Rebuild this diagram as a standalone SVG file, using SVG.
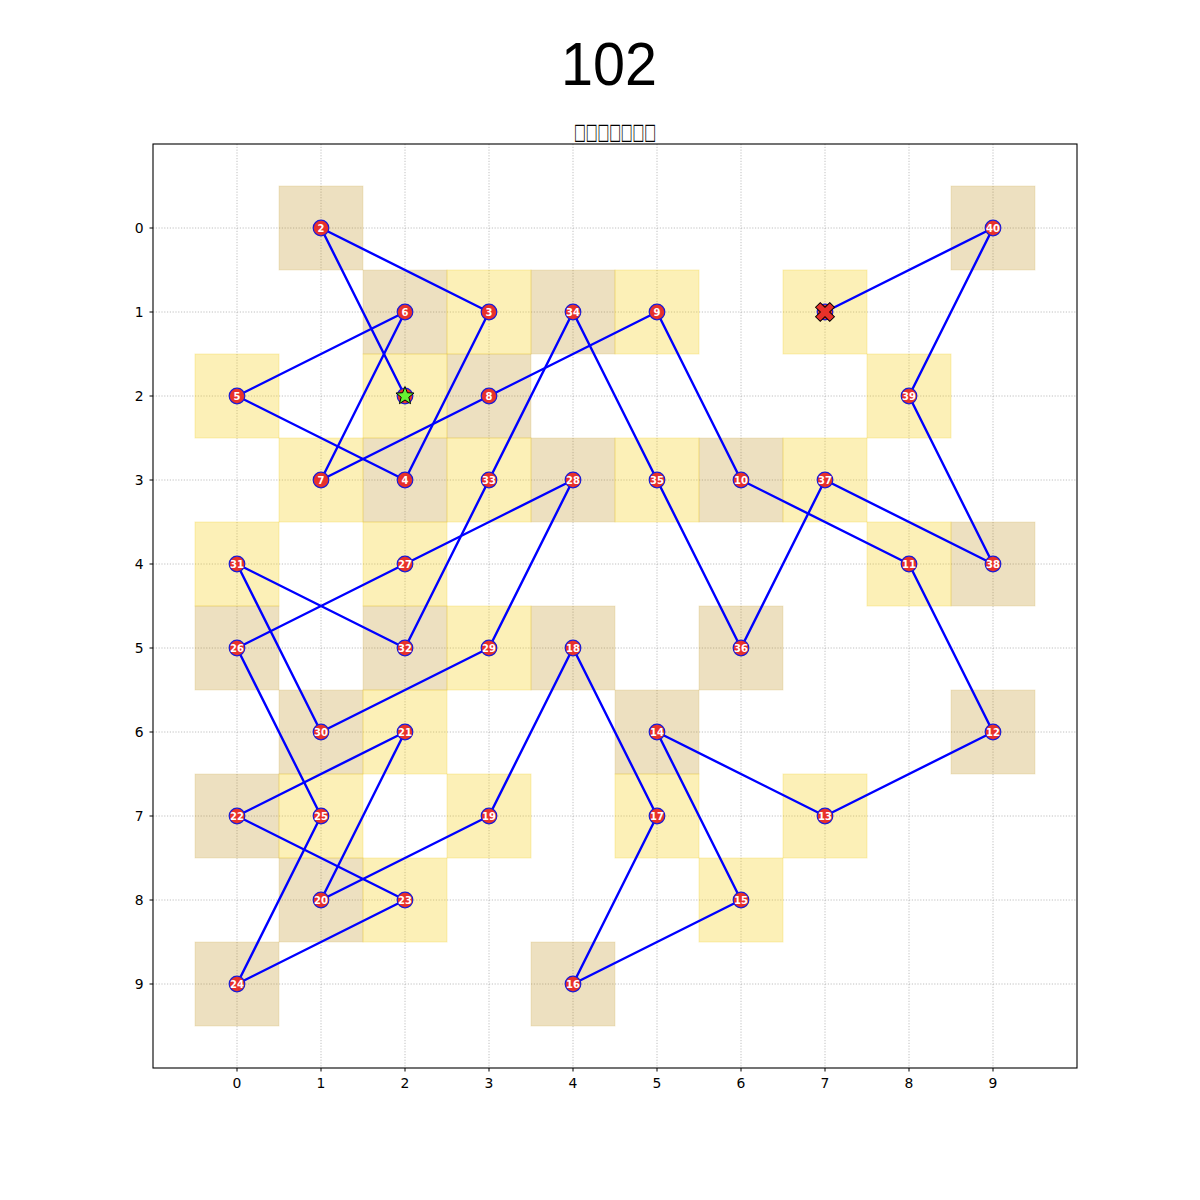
<svg xmlns="http://www.w3.org/2000/svg" width="1200" height="1200" viewBox="0 0 1200 1200">
<style>
.bg{fill:#ffffff}
.grid line{stroke:#b0b0b0;stroke-width:0.8;stroke-dasharray:1.2,1.6}
.sqY{fill:#f5cd12;fill-opacity:0.3;stroke:#f5cd12;stroke-opacity:0.25;stroke-width:1}
.sqT{fill:#b8860b;fill-opacity:0.26;stroke:#c8a030;stroke-opacity:0.2;stroke-width:1}
.edges line{stroke:#0000ff;stroke-width:2.4;stroke-linecap:round}
.node circle{fill:#e8312a;stroke:#1a1ad8;stroke-width:1.2}
.node text{fill:#ffffff;font-family:"DejaVu Sans",sans-serif;font-weight:bold;font-size:10px;text-anchor:middle}
.tick{stroke:#000;stroke-width:1}
.tl{font-family:"DejaVu Sans",sans-serif;font-size:13.9px;fill:#000}
.spine{fill:none;stroke:#000;stroke-width:1.1}
</style>
<rect class="bg" x="0" y="0" width="1200" height="1200"/>
<text x="609" y="85" font-family="'Liberation Sans',Arial,sans-serif" font-size="61" text-anchor="middle" fill="#000" textLength="96" lengthAdjust="spacingAndGlyphs">102</text>
<text x="615" y="139" font-family="'DejaVu Sans',sans-serif" font-size="22" text-anchor="middle" fill="#000" textLength="82" lengthAdjust="spacingAndGlyphs">□□□□□□□</text>

<g id="grid" class="grid">
<line x1="237" y1="144" x2="237" y2="1068"/><line x1="321" y1="144" x2="321" y2="1068"/><line x1="405" y1="144" x2="405" y2="1068"/><line x1="489" y1="144" x2="489" y2="1068"/><line x1="573" y1="144" x2="573" y2="1068"/><line x1="657" y1="144" x2="657" y2="1068"/><line x1="741" y1="144" x2="741" y2="1068"/><line x1="825" y1="144" x2="825" y2="1068"/><line x1="909" y1="144" x2="909" y2="1068"/><line x1="993" y1="144" x2="993" y2="1068"/>
<line x1="153" y1="228" x2="1077" y2="228"/><line x1="153" y1="312" x2="1077" y2="312"/><line x1="153" y1="396" x2="1077" y2="396"/><line x1="153" y1="480" x2="1077" y2="480"/><line x1="153" y1="564" x2="1077" y2="564"/><line x1="153" y1="648" x2="1077" y2="648"/><line x1="153" y1="732" x2="1077" y2="732"/><line x1="153" y1="816" x2="1077" y2="816"/><line x1="153" y1="900" x2="1077" y2="900"/><line x1="153" y1="984" x2="1077" y2="984"/>
</g>

<g id="cells">
<rect class="sqT" x="279" y="186" width="84" height="84"/>
<rect class="sqT" x="951" y="186" width="84" height="84"/>
<rect class="sqT" x="363" y="270" width="84" height="84"/>
<rect class="sqT" x="531" y="270" width="84" height="84"/>
<rect class="sqT" x="447" y="354" width="84" height="84"/>
<rect class="sqT" x="363" y="438" width="84" height="84"/>
<rect class="sqT" x="531" y="438" width="84" height="84"/>
<rect class="sqT" x="699" y="438" width="84" height="84"/>
<rect class="sqT" x="951" y="522" width="84" height="84"/>
<rect class="sqT" x="195" y="606" width="84" height="84"/>
<rect class="sqT" x="363" y="606" width="84" height="84"/>
<rect class="sqT" x="531" y="606" width="84" height="84"/>
<rect class="sqT" x="699" y="606" width="84" height="84"/>
<rect class="sqT" x="279" y="690" width="84" height="84"/>
<rect class="sqT" x="615" y="690" width="84" height="84"/>
<rect class="sqT" x="951" y="690" width="84" height="84"/>
<rect class="sqT" x="195" y="774" width="84" height="84"/>
<rect class="sqT" x="279" y="858" width="84" height="84"/>
<rect class="sqT" x="195" y="942" width="84" height="84"/>
<rect class="sqT" x="531" y="942" width="84" height="84"/>
<rect class="sqY" x="447" y="270" width="84" height="84"/>
<rect class="sqY" x="615" y="270" width="84" height="84"/>
<rect class="sqY" x="783" y="270" width="84" height="84"/>
<rect class="sqY" x="195" y="354" width="84" height="84"/>
<rect class="sqY" x="363" y="354" width="84" height="84"/>
<rect class="sqY" x="867" y="354" width="84" height="84"/>
<rect class="sqY" x="279" y="438" width="84" height="84"/>
<rect class="sqY" x="447" y="438" width="84" height="84"/>
<rect class="sqY" x="615" y="438" width="84" height="84"/>
<rect class="sqY" x="783" y="438" width="84" height="84"/>
<rect class="sqY" x="195" y="522" width="84" height="84"/>
<rect class="sqY" x="363" y="522" width="84" height="84"/>
<rect class="sqY" x="867" y="522" width="84" height="84"/>
<rect class="sqY" x="447" y="606" width="84" height="84"/>
<rect class="sqY" x="363" y="690" width="84" height="84"/>
<rect class="sqY" x="279" y="774" width="84" height="84"/>
<rect class="sqY" x="447" y="774" width="84" height="84"/>
<rect class="sqY" x="615" y="774" width="84" height="84"/>
<rect class="sqY" x="783" y="774" width="84" height="84"/>
<rect class="sqY" x="363" y="858" width="84" height="84"/>
<rect class="sqY" x="699" y="858" width="84" height="84"/>
</g>

<g id="axes">
<rect class="spine" x="153" y="144" width="924" height="924"/>
<g class="tick">
<line x1="149.5" y1="228" x2="153" y2="228"/><line x1="149.5" y1="312" x2="153" y2="312"/><line x1="149.5" y1="396" x2="153" y2="396"/><line x1="149.5" y1="480" x2="153" y2="480"/><line x1="149.5" y1="564" x2="153" y2="564"/><line x1="149.5" y1="648" x2="153" y2="648"/><line x1="149.5" y1="732" x2="153" y2="732"/><line x1="149.5" y1="816" x2="153" y2="816"/><line x1="149.5" y1="900" x2="153" y2="900"/><line x1="149.5" y1="984" x2="153" y2="984"/>
<line x1="237" y1="1068" x2="237" y2="1071.5"/><line x1="321" y1="1068" x2="321" y2="1071.5"/><line x1="405" y1="1068" x2="405" y2="1071.5"/><line x1="489" y1="1068" x2="489" y2="1071.5"/><line x1="573" y1="1068" x2="573" y2="1071.5"/><line x1="657" y1="1068" x2="657" y2="1071.5"/><line x1="741" y1="1068" x2="741" y2="1071.5"/><line x1="825" y1="1068" x2="825" y2="1071.5"/><line x1="909" y1="1068" x2="909" y2="1071.5"/><line x1="993" y1="1068" x2="993" y2="1071.5"/>
</g>
<g class="tl" text-anchor="end">
<text x="143.5" y="233">0</text><text x="143.5" y="317">1</text><text x="143.5" y="401">2</text><text x="143.5" y="485">3</text><text x="143.5" y="569">4</text><text x="143.5" y="653">5</text><text x="143.5" y="737">6</text><text x="143.5" y="821">7</text><text x="143.5" y="905">8</text><text x="143.5" y="989">9</text>
</g>
<g class="tl" text-anchor="middle">
<text x="237" y="1088">0</text><text x="321" y="1088">1</text><text x="405" y="1088">2</text><text x="489" y="1088">3</text><text x="573" y="1088">4</text><text x="657" y="1088">5</text><text x="741" y="1088">6</text><text x="825" y="1088">7</text><text x="909" y="1088">8</text><text x="993" y="1088">9</text>
</g>
</g>

<g id="connectors" class="edges">
<line x1="405" y1="396" x2="321" y2="228"/>
<line x1="321" y1="228" x2="489" y2="312"/>
<line x1="489" y1="312" x2="405" y2="480"/>
<line x1="405" y1="480" x2="237" y2="396"/>
<line x1="237" y1="396" x2="405" y2="312"/>
<line x1="405" y1="312" x2="321" y2="480"/>
<line x1="321" y1="480" x2="489" y2="396"/>
<line x1="489" y1="396" x2="657" y2="312"/>
<line x1="657" y1="312" x2="741" y2="480"/>
<line x1="741" y1="480" x2="909" y2="564"/>
<line x1="909" y1="564" x2="993" y2="732"/>
<line x1="993" y1="732" x2="825" y2="816"/>
<line x1="825" y1="816" x2="657" y2="732"/>
<line x1="657" y1="732" x2="741" y2="900"/>
<line x1="741" y1="900" x2="573" y2="984"/>
<line x1="573" y1="984" x2="657" y2="816"/>
<line x1="657" y1="816" x2="573" y2="648"/>
<line x1="573" y1="648" x2="489" y2="816"/>
<line x1="489" y1="816" x2="321" y2="900"/>
<line x1="321" y1="900" x2="405" y2="732"/>
<line x1="405" y1="732" x2="237" y2="816"/>
<line x1="237" y1="816" x2="405" y2="900"/>
<line x1="405" y1="900" x2="237" y2="984"/>
<line x1="237" y1="984" x2="321" y2="816"/>
<line x1="321" y1="816" x2="237" y2="648"/>
<line x1="237" y1="648" x2="405" y2="564"/>
<line x1="405" y1="564" x2="573" y2="480"/>
<line x1="573" y1="480" x2="489" y2="648"/>
<line x1="489" y1="648" x2="321" y2="732"/>
<line x1="321" y1="732" x2="237" y2="564"/>
<line x1="237" y1="564" x2="405" y2="648"/>
<line x1="405" y1="648" x2="489" y2="480"/>
<line x1="489" y1="480" x2="573" y2="312"/>
<line x1="573" y1="312" x2="657" y2="480"/>
<line x1="657" y1="480" x2="741" y2="648"/>
<line x1="741" y1="648" x2="825" y2="480"/>
<line x1="825" y1="480" x2="993" y2="564"/>
<line x1="993" y1="564" x2="909" y2="396"/>
<line x1="909" y1="396" x2="993" y2="228"/>
<line x1="993" y1="228" x2="825" y2="312"/>
</g>

<g id="nodes">
<g id="node-start" class="node"><circle cx="405" cy="396" r="7.8"/><polygon points="405,386.5 407.35,392.76 414.03,393.06 408.8,397.24 410.58,403.69 405,400 399.42,403.69 401.2,397.24 395.97,393.06 402.65,392.76" fill="#66f233" stroke="#000" stroke-width="1"/></g>
<g id="node-2" class="node"><circle cx="321" cy="228" r="7.8"/><text x="321" y="231.6">2</text></g>
<g id="node-3" class="node"><circle cx="489" cy="312" r="7.8"/><text x="489" y="315.6">3</text></g>
<g id="node-4" class="node"><circle cx="405" cy="480" r="7.8"/><text x="405" y="483.6">4</text></g>
<g id="node-5" class="node"><circle cx="237" cy="396" r="7.8"/><text x="237" y="399.6">5</text></g>
<g id="node-6" class="node"><circle cx="405" cy="312" r="7.8"/><text x="405" y="315.6">6</text></g>
<g id="node-7" class="node"><circle cx="321" cy="480" r="7.8"/><text x="321" y="483.6">7</text></g>
<g id="node-8" class="node"><circle cx="489" cy="396" r="7.8"/><text x="489" y="399.6">8</text></g>
<g id="node-9" class="node"><circle cx="657" cy="312" r="7.8"/><text x="657" y="315.6">9</text></g>
<g id="node-10" class="node"><circle cx="741" cy="480" r="7.8"/><text x="741" y="483.6">10</text></g>
<g id="node-11" class="node"><circle cx="909" cy="564" r="7.8"/><text x="909" y="567.6">11</text></g>
<g id="node-12" class="node"><circle cx="993" cy="732" r="7.8"/><text x="993" y="735.6">12</text></g>
<g id="node-13" class="node"><circle cx="825" cy="816" r="7.8"/><text x="825" y="819.6">13</text></g>
<g id="node-14" class="node"><circle cx="657" cy="732" r="7.8"/><text x="657" y="735.6">14</text></g>
<g id="node-15" class="node"><circle cx="741" cy="900" r="7.8"/><text x="741" y="903.6">15</text></g>
<g id="node-16" class="node"><circle cx="573" cy="984" r="7.8"/><text x="573" y="987.6">16</text></g>
<g id="node-17" class="node"><circle cx="657" cy="816" r="7.8"/><text x="657" y="819.6">17</text></g>
<g id="node-18" class="node"><circle cx="573" cy="648" r="7.8"/><text x="573" y="651.6">18</text></g>
<g id="node-19" class="node"><circle cx="489" cy="816" r="7.8"/><text x="489" y="819.6">19</text></g>
<g id="node-20" class="node"><circle cx="321" cy="900" r="7.8"/><text x="321" y="903.6">20</text></g>
<g id="node-21" class="node"><circle cx="405" cy="732" r="7.8"/><text x="405" y="735.6">21</text></g>
<g id="node-22" class="node"><circle cx="237" cy="816" r="7.8"/><text x="237" y="819.6">22</text></g>
<g id="node-23" class="node"><circle cx="405" cy="900" r="7.8"/><text x="405" y="903.6">23</text></g>
<g id="node-24" class="node"><circle cx="237" cy="984" r="7.8"/><text x="237" y="987.6">24</text></g>
<g id="node-25" class="node"><circle cx="321" cy="816" r="7.8"/><text x="321" y="819.6">25</text></g>
<g id="node-26" class="node"><circle cx="237" cy="648" r="7.8"/><text x="237" y="651.6">26</text></g>
<g id="node-27" class="node"><circle cx="405" cy="564" r="7.8"/><text x="405" y="567.6">27</text></g>
<g id="node-28" class="node"><circle cx="573" cy="480" r="7.8"/><text x="573" y="483.6">28</text></g>
<g id="node-29" class="node"><circle cx="489" cy="648" r="7.8"/><text x="489" y="651.6">29</text></g>
<g id="node-30" class="node"><circle cx="321" cy="732" r="7.8"/><text x="321" y="735.6">30</text></g>
<g id="node-31" class="node"><circle cx="237" cy="564" r="7.8"/><text x="237" y="567.6">31</text></g>
<g id="node-32" class="node"><circle cx="405" cy="648" r="7.8"/><text x="405" y="651.6">32</text></g>
<g id="node-33" class="node"><circle cx="489" cy="480" r="7.8"/><text x="489" y="483.6">33</text></g>
<g id="node-34" class="node"><circle cx="573" cy="312" r="7.8"/><text x="573" y="315.6">34</text></g>
<g id="node-35" class="node"><circle cx="657" cy="480" r="7.8"/><text x="657" y="483.6">35</text></g>
<g id="node-36" class="node"><circle cx="741" cy="648" r="7.8"/><text x="741" y="651.6">36</text></g>
<g id="node-37" class="node"><circle cx="825" cy="480" r="7.8"/><text x="825" y="483.6">37</text></g>
<g id="node-38" class="node"><circle cx="993" cy="564" r="7.8"/><text x="993" y="567.6">38</text></g>
<g id="node-39" class="node"><circle cx="909" cy="396" r="7.8"/><text x="909" y="399.6">39</text></g>
<g id="node-40" class="node"><circle cx="993" cy="228" r="7.8"/><text x="993" y="231.6">40</text></g>
<g id="node-end" class="node"><circle cx="825" cy="312" r="7.8"/><path transform="translate(825,312) rotate(45)" d="M-3.3,-10 L3.3,-10 L3.3,-3.3 L10,-3.3 L10,3.3 L3.3,3.3 L3.3,10 L-3.3,10 L-3.3,3.3 L-10,3.3 L-10,-3.3 L-3.3,-3.3 Z" fill="#e8312a" stroke="#000" stroke-width="1"/></g>
</g>
</svg>
